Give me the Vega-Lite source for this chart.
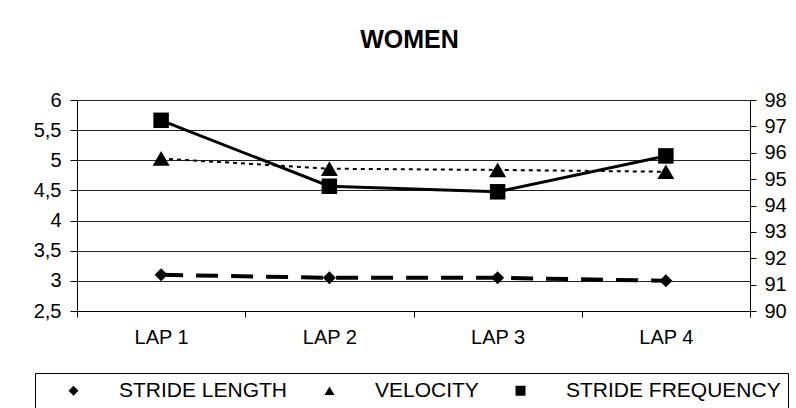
{
  "$schema": "https://vega.github.io/schema/vega-lite/v6.json",
  "autosize": "none",
  "width": 673,
  "height": 211,
  "padding": {"left": 77, "top": 100, "right": 46, "bottom": 97},
  "background": "white",
  "title": {
    "text": "WOMEN",
    "font": "Liberation Sans",
    "fontSize": 25,
    "fontWeight": "bold",
    "color": "black",
    "anchor": "middle",
    "frame": "group",
    "baseline": "alphabetic",
    "offset": 17,
    "dx": -4
  },
  "data": {
    "values": [
      {"lap": "LAP 1", "series": "STRIDE LENGTH", "value": 3.10},
      {"lap": "LAP 2", "series": "STRIDE LENGTH", "value": 3.05},
      {"lap": "LAP 3", "series": "STRIDE LENGTH", "value": 3.05},
      {"lap": "LAP 4", "series": "STRIDE LENGTH", "value": 3.00},
      {"lap": "LAP 1", "series": "VELOCITY", "value": 5.03},
      {"lap": "LAP 2", "series": "VELOCITY", "value": 4.86},
      {"lap": "LAP 3", "series": "VELOCITY", "value": 4.84},
      {"lap": "LAP 4", "series": "VELOCITY", "value": 4.81},
      {"lap": "LAP 1", "series": "STRIDE FREQUENCY", "value": 97.23},
      {"lap": "LAP 2", "series": "STRIDE FREQUENCY", "value": 94.73},
      {"lap": "LAP 3", "series": "STRIDE FREQUENCY", "value": 94.52},
      {"lap": "LAP 4", "series": "STRIDE FREQUENCY", "value": 95.88}
    ]
  },
  "encoding": {
    "x": {
      "field": "lap",
      "type": "nominal",
      "sort": ["LAP 1", "LAP 2", "LAP 3", "LAP 4"],
      "scale": {"type": "band", "paddingInner": 0, "paddingOuter": 0},
      "axis": {
        "title": null,
        "labelAngle": 0,
        "tickBand": "extent",
        "tickSize": 6,
        "labelPadding": 10,
        "grid": false
      }
    }
  },
  "layer": [
    {
      "transform": [{"filter": "datum.series !== 'STRIDE FREQUENCY'"}],
      "encoding": {
        "y": {
          "field": "value",
          "type": "quantitative",
          "scale": {"domain": [2.5, 6], "nice": false, "zero": false},
          "axis": {
            "title": null,
            "values": [2.5, 3, 3.5, 4, 4.5, 5, 5.5, 6],
            "labelExpr": "replace(toString(datum.value), '.', ',')",
            "grid": true,
            "gridColor": "#222222",
            "gridOpacity": 1,
            "tickSize": 7,
            "labelPadding": 9
          }
        }
      },
      "layer": [
        {
          "transform": [{"filter": "datum.series === 'STRIDE LENGTH'"}],
          "mark": {"type": "line", "color": "black", "strokeWidth": 4, "strokeDash": [22, 13]}
        },
        {
          "transform": [{"filter": "datum.series === 'VELOCITY'"}],
          "mark": {"type": "line", "color": "black", "strokeWidth": 2, "strokeDash": [4, 4]}
        },
        {
          "transform": [{"filter": "datum.series === 'STRIDE LENGTH'"}],
          "mark": {"type": "point", "filled": true, "color": "black", "opacity": 1, "size": 169},
          "encoding": {
            "shape": {
              "field": "series",
              "type": "nominal",
              "scale": {"domain": ["STRIDE LENGTH", "VELOCITY", "STRIDE FREQUENCY"], "range": ["diamond", "triangle-up", "square"]},
              "legend": {
                "labelLimit": 400,
                "encode": {
                  "symbols": {
                    "shape": {"value": {"expr": "datum.value === 'STRIDE LENGTH' ? 'M-6,0H6M0,-0.9L0.9,0L0,0.9L-0.9,0Z' : datum.value === 'VELOCITY' ? 'M-6.5,0H-5.5M-4.5,0H-3.5M-2.5,0H-1.5M1.5,0H2.5M3.5,0H4.5M5.5,0H6.5M0,-1.3L1.4,1.1L-1.4,1.1Z' : 'M-7.3,0H7.3M-1,-1H1V1H-1Z'"}},
                    "size": {"value": 100},
                    "strokeWidth": {"value": {"expr": "datum.value === 'STRIDE LENGTH' ? 4 : datum.value === 'VELOCITY' ? 2 : 2.5"}}
                  }
                }
              }
            }
          }
        },
        {
          "transform": [{"filter": "datum.series === 'VELOCITY'"}],
          "mark": {"type": "point", "filled": true, "color": "black", "opacity": 1, "size": 289},
          "encoding": {
            "shape": {
              "field": "series",
              "type": "nominal",
              "scale": {"domain": ["STRIDE LENGTH", "VELOCITY", "STRIDE FREQUENCY"], "range": ["diamond", "triangle-up", "square"]},
              "legend": {
                "labelLimit": 400,
                "encode": {
                  "symbols": {
                    "shape": {"value": {"expr": "datum.value === 'STRIDE LENGTH' ? 'M-6,0H6M0,-0.9L0.9,0L0,0.9L-0.9,0Z' : datum.value === 'VELOCITY' ? 'M-6.5,0H-5.5M-4.5,0H-3.5M-2.5,0H-1.5M1.5,0H2.5M3.5,0H4.5M5.5,0H6.5M0,-1.3L1.4,1.1L-1.4,1.1Z' : 'M-7.3,0H7.3M-1,-1H1V1H-1Z'"}},
                    "size": {"value": 100},
                    "strokeWidth": {"value": {"expr": "datum.value === 'STRIDE LENGTH' ? 4 : datum.value === 'VELOCITY' ? 2 : 2.5"}}
                  }
                }
              }
            }
          }
        }
      ]
    },
    {
      "transform": [{"filter": "datum.series === 'STRIDE FREQUENCY'"}],
      "encoding": {
        "y": {
          "field": "value",
          "type": "quantitative",
          "scale": {"domain": [90, 98], "nice": false, "zero": false},
          "axis": {
            "title": null,
            "orient": "right",
            "values": [90, 91, 92, 93, 94, 95, 96, 97, 98],
            "grid": false,
            "tickSize": 6,
            "labelPadding": 8
          }
        }
      },
      "layer": [
        {
          "mark": {"type": "line", "color": "black", "strokeWidth": 3}
        },
        {
          "mark": {"type": "point", "filled": true, "color": "black", "opacity": 1, "size": 240},
          "encoding": {
            "shape": {
              "field": "series",
              "type": "nominal",
              "scale": {"domain": ["STRIDE LENGTH", "VELOCITY", "STRIDE FREQUENCY"], "range": ["diamond", "triangle-up", "square"]},
              "legend": {
                "labelLimit": 400,
                "encode": {
                  "symbols": {
                    "shape": {"value": {"expr": "datum.value === 'STRIDE LENGTH' ? 'M-6,0H6M0,-0.9L0.9,0L0,0.9L-0.9,0Z' : datum.value === 'VELOCITY' ? 'M-6.5,0H-5.5M-4.5,0H-3.5M-2.5,0H-1.5M1.5,0H2.5M3.5,0H4.5M5.5,0H6.5M0,-1.3L1.4,1.1L-1.4,1.1Z' : 'M-7.3,0H7.3M-1,-1H1V1H-1Z'"}},
                    "size": {"value": 100},
                    "strokeWidth": {"value": {"expr": "datum.value === 'STRIDE LENGTH' ? 4 : datum.value === 'VELOCITY' ? 2 : 2.5"}}
                  }
                }
              }
            }
          }
        }
      ]
    }
  ],
  "resolve": {"scale": {"y": "independent"}},
  "config": {
    "font": "Liberation Sans",
    "view": {"stroke": null},
    "axis": {
      "labelFont": "Liberation Sans",
      "labelFontSize": 20,
      "labelColor": "black",
      "domainColor": "black",
      "domainWidth": 1,
      "tickColor": "black",
      "tickWidth": 1
    },
    "legend": {
      "orient": "none",
      "legendX": -42,
      "legendY": 273,
      "direction": "horizontal",
      "title": null,
      "strokeColor": "black",
      "padding": 7,
      "labelFont": "Liberation Sans",
      "labelFontSize": 21,
      "labelColor": "black",
      "labelLimit": 400,
      "symbolSize": 100,
      "symbolOffset": 21,
      "labelOffset": 35,
      "columnPadding": 10,
      "symbolStrokeColor": "black",
      "symbolFillColor": "black",
      "symbolOpacity": 1
    }
  }
}
